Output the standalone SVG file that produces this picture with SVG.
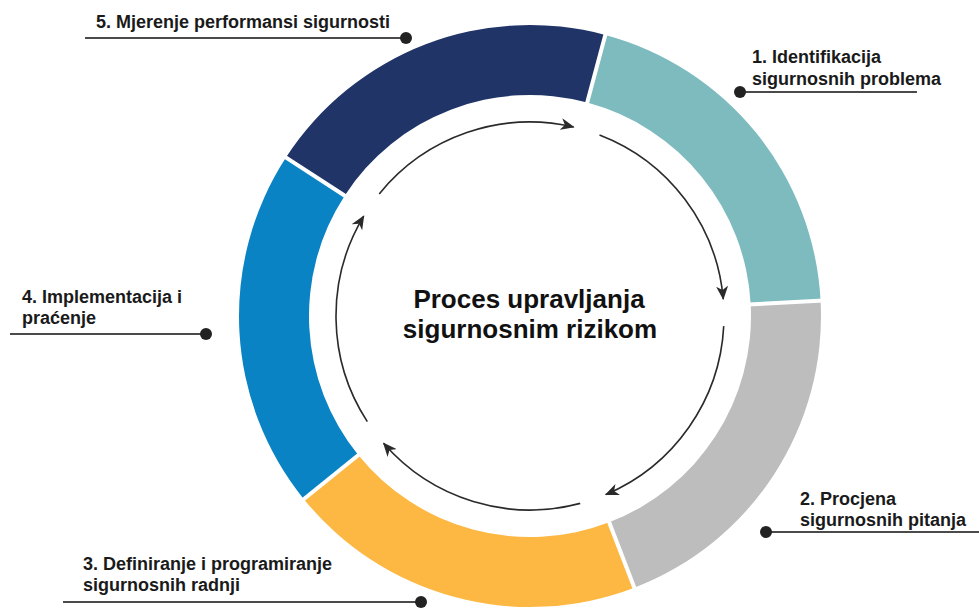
<svg xmlns="http://www.w3.org/2000/svg" width="979" height="609" viewBox="0 0 979 609">
<style>
.lbl{font-family:"Liberation Sans",Arial,sans-serif;font-weight:bold;font-size:18px;fill:#1a1a1a}
.title{font-family:"Liberation Sans",Arial,sans-serif;font-weight:bold;font-size:26px;fill:#111;text-anchor:middle}
.lead{stroke:#4a4a4a;stroke-width:2.2;fill:none}
.dot{fill:#222}
.gap{stroke:#fff;stroke-width:4}
.arc{fill:none;stroke:#2a2a2a;stroke-width:1.6;marker-end:url(#ah)}
</style>
<defs>
<marker id="ah" markerUnits="userSpaceOnUse" markerWidth="14" markerHeight="12" viewBox="0 0 14 12" refX="13" refY="6" orient="auto">
<path d="M0,0 L14,6 L0,12 L4,6 z" fill="#2a2a2a"/>
</marker>
</defs>
<rect width="979" height="609" fill="#fff"/>
<g id="ring">
<path id="seg5" d="M285.95,157.51 A291,291 0 0 1 605.31,34.92 L587.20,102.53 A221,221 0 0 0 344.65,195.63 Z" fill="#203467"/>
<path id="seg1" d="M605.31,34.92 A291,291 0 0 1 820.60,300.77 L750.70,304.43 A221,221 0 0 0 587.20,102.53 Z" fill="#7EBBBF"/>
<path id="seg2" d="M820.60,300.77 A291,291 0 0 1 634.29,587.67 L609.20,522.32 A221,221 0 0 0 750.70,304.43 Z" fill="#BEBDBD"/>
<path id="seg3" d="M634.29,587.67 A291,291 0 0 1 303.85,499.13 L358.25,455.08 A221,221 0 0 0 609.20,522.32 Z" fill="#FCB843"/>
<path id="seg4" d="M303.85,499.13 A291,291 0 0 1 285.95,157.51 L344.65,195.63 A221,221 0 0 0 358.25,455.08 Z" fill="#0A83C5"/>
<line class="gap" x1="586.4" y1="105.4" x2="606.1" y2="32.0"/>
<line class="gap" x1="747.7" y1="304.6" x2="823.6" y2="300.6"/>
<line class="gap" x1="608.1" y1="519.5" x2="635.4" y2="590.5"/>
<line class="gap" x1="360.6" y1="453.2" x2="301.5" y2="501.0"/>
<line class="gap" x1="347.2" y1="197.3" x2="283.4" y2="155.9"/>
</g>
<g id="connectors">
<path class="arc" d="M379.23,193.91 A194,194 0 0 1 573.64,126.97"/>
<path class="arc" d="M599.52,134.89 A194,194 0 0 1 723.26,299.09"/>
<path class="arc" d="M723.73,326.15 A194,194 0 0 1 605.80,494.58"/>
<path class="arc" d="M580.21,503.39 A194,194 0 0 1 383.59,443.28"/>
<path class="arc" d="M367.30,421.66 A194,194 0 0 1 363.71,216.08"/>
</g>
<g id="center-title">
<text class="title" x="529" y="308">Proces upravljanja</text>
<text class="title" x="530" y="338">sigurnosnim rizikom</text>
</g>
<g id="label1">
<text class="lbl" x="752" y="63">1. Identifikacija</text>
<text class="lbl" x="752" y="85">sigurnosnih problema</text>
<line class="lead" x1="740" y1="92" x2="917" y2="92"/>
<circle class="dot" cx="740" cy="92" r="6"/>
</g>
<g id="label2">
<text class="lbl" x="800" y="505">2. Procjena</text>
<text class="lbl" x="800" y="526">sigurnosnih pitanja</text>
<line class="lead" x1="766" y1="532" x2="979" y2="532"/>
<circle class="dot" cx="766" cy="532" r="6"/>
</g>
<g id="label3">
<text class="lbl" x="83" y="570">3. Definiranje i programiranje</text>
<text class="lbl" x="83" y="591">sigurnosnih radnji</text>
<line class="lead" x1="63" y1="602" x2="421" y2="602"/>
<circle class="dot" cx="421" cy="602" r="6"/>
</g>
<g id="label4">
<text class="lbl" x="22" y="303">4. Implementacija i</text>
<text class="lbl" x="22" y="324">praćenje</text>
<line class="lead" x1="10" y1="334" x2="206" y2="334"/>
<circle class="dot" cx="206" cy="334" r="6"/>
</g>
<g id="label5">
<text class="lbl" x="96" y="28">5. Mjerenje performansi sigurnosti</text>
<line class="lead" x1="85" y1="38" x2="406" y2="38"/>
<circle class="dot" cx="406" cy="38" r="6"/>
</g>
</svg>
